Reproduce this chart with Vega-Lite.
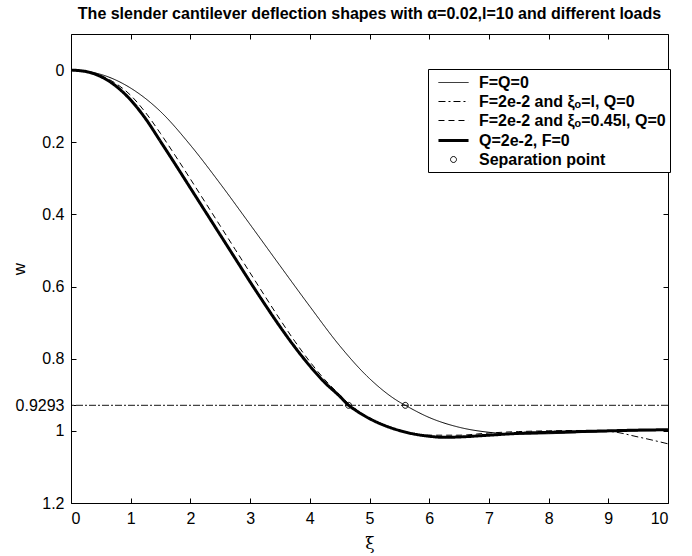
{
  "$schema": "https://vega.github.io/schema/vega-lite/v6.json",
  "width": 597,
  "height": 469,
  "autosize": "none",
  "padding": {"left": 71, "top": 34, "right": 24, "bottom": 53},
  "background": "white",
  "title": {"text": "The slender cantilever deflection shapes with α=0.02,l=10 and different loads", "font": "Liberation Sans", "fontSize": 16, "fontWeight": "bold", "color": "black", "anchor": "middle", "offset": 12},
  "config": {
    "view": {"stroke": "black", "strokeWidth": 1},
    "axis": {"domain": false, "grid": false, "tickSize": -5, "tickColor": "black", "labelFont": "Liberation Sans", "labelFontSize": 16, "labelColor": "black", "labelPadding": 12, "titleFont": "Liberation Sans", "titleColor": "black", "titleFontWeight": "normal"},
    "legend": {"labelFont": "Liberation Sans", "labelFontSize": 16, "labelFontWeight": "bold", "labelColor": "black", "strokeColor": "black", "fillColor": "white", "padding": 4, "rowPadding": 1, "symbolSize": 324, "symbolOffset": 11, "labelOffset": 15, "cornerRadius": 0, "labelLimit": 400}
  },
  "datasets": {
    "curves": [
      {"s": "F=Q=0", "x": 0, "w": 0}, {"s": "F=Q=0", "x": 0.5, "w": 0.012}, {"s": "F=Q=0", "x": 1, "w": 0.05}, {"s": "F=Q=0", "x": 1.5, "w": 0.115}, {"s": "F=Q=0", "x": 2, "w": 0.208}, {"s": "F=Q=0", "x": 2.5, "w": 0.315}, {"s": "F=Q=0", "x": 3, "w": 0.428}, {"s": "F=Q=0", "x": 3.5, "w": 0.542}, {"s": "F=Q=0", "x": 4, "w": 0.655}, {"s": "F=Q=0", "x": 4.5, "w": 0.764}, {"s": "F=Q=0", "x": 5, "w": 0.855}, {"s": "F=Q=0", "x": 5.5, "w": 0.92}, {"s": "F=Q=0", "x": 5.6, "w": 0.9293}, {"s": "F=Q=0", "x": 6, "w": 0.963}, {"s": "F=Q=0", "x": 6.5, "w": 0.99}, {"s": "F=Q=0", "x": 7, "w": 1.004}, {"s": "F=Q=0", "x": 7.5, "w": 1.009}, {"s": "F=Q=0", "x": 8, "w": 1.008}, {"s": "F=Q=0", "x": 8.5, "w": 1.005}, {"s": "F=Q=0", "x": 9, "w": 1.002}, {"s": "F=Q=0", "x": 9.5, "w": 1.0}, {"s": "F=Q=0", "x": 10, "w": 0.999},
      {"s": "Q=2e-2, F=0", "x": 0, "w": 0}, {"s": "Q=2e-2, F=0", "x": 0.25, "w": 0.004}, {"s": "Q=2e-2, F=0", "x": 0.5, "w": 0.018}, {"s": "Q=2e-2, F=0", "x": 0.75, "w": 0.044}, {"s": "Q=2e-2, F=0", "x": 1, "w": 0.083}, {"s": "Q=2e-2, F=0", "x": 1.25, "w": 0.135}, {"s": "Q=2e-2, F=0", "x": 1.5, "w": 0.198}, {"s": "Q=2e-2, F=0", "x": 1.75, "w": 0.262}, {"s": "Q=2e-2, F=0", "x": 2, "w": 0.327}, {"s": "Q=2e-2, F=0", "x": 2.25, "w": 0.392}, {"s": "Q=2e-2, F=0", "x": 2.5, "w": 0.457}, {"s": "Q=2e-2, F=0", "x": 2.75, "w": 0.522}, {"s": "Q=2e-2, F=0", "x": 3, "w": 0.587}, {"s": "Q=2e-2, F=0", "x": 3.25, "w": 0.65}, {"s": "Q=2e-2, F=0", "x": 3.5, "w": 0.711}, {"s": "Q=2e-2, F=0", "x": 3.75, "w": 0.768}, {"s": "Q=2e-2, F=0", "x": 4, "w": 0.82}, {"s": "Q=2e-2, F=0", "x": 4.25, "w": 0.866}, {"s": "Q=2e-2, F=0", "x": 4.5, "w": 0.904}, {"s": "Q=2e-2, F=0", "x": 4.65, "w": 0.9293}, {"s": "Q=2e-2, F=0", "x": 4.75, "w": 0.941}, {"s": "Q=2e-2, F=0", "x": 5, "w": 0.966}, {"s": "Q=2e-2, F=0", "x": 5.25, "w": 0.985}, {"s": "Q=2e-2, F=0", "x": 5.5, "w": 0.999}, {"s": "Q=2e-2, F=0", "x": 5.75, "w": 1.009}, {"s": "Q=2e-2, F=0", "x": 6, "w": 1.015}, {"s": "Q=2e-2, F=0", "x": 6.25, "w": 1.018}, {"s": "Q=2e-2, F=0", "x": 6.5, "w": 1.017}, {"s": "Q=2e-2, F=0", "x": 7, "w": 1.012}, {"s": "Q=2e-2, F=0", "x": 7.5, "w": 1.007}, {"s": "Q=2e-2, F=0", "x": 8, "w": 1.004}, {"s": "Q=2e-2, F=0", "x": 8.5, "w": 1.002}, {"s": "Q=2e-2, F=0", "x": 9, "w": 1.0}, {"s": "Q=2e-2, F=0", "x": 9.5, "w": 0.998}, {"s": "Q=2e-2, F=0", "x": 10, "w": 0.997},
      {"s": "F=2e-2 and ξₒ=l, Q=0", "x": 0, "w": 0}, {"s": "F=2e-2 and ξₒ=l, Q=0", "x": 0.5, "w": 0.018}, {"s": "F=2e-2 and ξₒ=l, Q=0", "x": 1, "w": 0.083}, {"s": "F=2e-2 and ξₒ=l, Q=0", "x": 1.5, "w": 0.198}, {"s": "F=2e-2 and ξₒ=l, Q=0", "x": 2, "w": 0.327}, {"s": "F=2e-2 and ξₒ=l, Q=0", "x": 2.5, "w": 0.457}, {"s": "F=2e-2 and ξₒ=l, Q=0", "x": 3, "w": 0.587}, {"s": "F=2e-2 and ξₒ=l, Q=0", "x": 3.5, "w": 0.711}, {"s": "F=2e-2 and ξₒ=l, Q=0", "x": 4, "w": 0.82}, {"s": "F=2e-2 and ξₒ=l, Q=0", "x": 4.5, "w": 0.904}, {"s": "F=2e-2 and ξₒ=l, Q=0", "x": 5, "w": 0.966}, {"s": "F=2e-2 and ξₒ=l, Q=0", "x": 5.5, "w": 0.999}, {"s": "F=2e-2 and ξₒ=l, Q=0", "x": 6, "w": 1.015}, {"s": "F=2e-2 and ξₒ=l, Q=0", "x": 6.5, "w": 1.017}, {"s": "F=2e-2 and ξₒ=l, Q=0", "x": 7, "w": 1.012}, {"s": "F=2e-2 and ξₒ=l, Q=0", "x": 7.5, "w": 1.007}, {"s": "F=2e-2 and ξₒ=l, Q=0", "x": 8, "w": 1.004}, {"s": "F=2e-2 and ξₒ=l, Q=0", "x": 8.5, "w": 1.002}, {"s": "F=2e-2 and ξₒ=l, Q=0", "x": 9, "w": 1.002}, {"s": "F=2e-2 and ξₒ=l, Q=0", "x": 9.5, "w": 1.017}, {"s": "F=2e-2 and ξₒ=l, Q=0", "x": 10, "w": 1.036},
      {"s": "F=2e-2 and ξₒ=0.45l, Q=0", "x": 0, "w": 0}, {"s": "F=2e-2 and ξₒ=0.45l, Q=0", "x": 0.25, "w": 0.003}, {"s": "F=2e-2 and ξₒ=0.45l, Q=0", "x": 0.5, "w": 0.015}, {"s": "F=2e-2 and ξₒ=0.45l, Q=0", "x": 0.75, "w": 0.037}, {"s": "F=2e-2 and ξₒ=0.45l, Q=0", "x": 1, "w": 0.07}, {"s": "F=2e-2 and ξₒ=0.45l, Q=0", "x": 1.25, "w": 0.118}, {"s": "F=2e-2 and ξₒ=0.45l, Q=0", "x": 1.5, "w": 0.176}, {"s": "F=2e-2 and ξₒ=0.45l, Q=0", "x": 1.75, "w": 0.238}, {"s": "F=2e-2 and ξₒ=0.45l, Q=0", "x": 2, "w": 0.302}, {"s": "F=2e-2 and ξₒ=0.45l, Q=0", "x": 2.25, "w": 0.367}, {"s": "F=2e-2 and ξₒ=0.45l, Q=0", "x": 2.5, "w": 0.432}, {"s": "F=2e-2 and ξₒ=0.45l, Q=0", "x": 2.75, "w": 0.497}, {"s": "F=2e-2 and ξₒ=0.45l, Q=0", "x": 3, "w": 0.562}, {"s": "F=2e-2 and ξₒ=0.45l, Q=0", "x": 3.25, "w": 0.627}, {"s": "F=2e-2 and ξₒ=0.45l, Q=0", "x": 3.5, "w": 0.691}, {"s": "F=2e-2 and ξₒ=0.45l, Q=0", "x": 3.75, "w": 0.752}, {"s": "F=2e-2 and ξₒ=0.45l, Q=0", "x": 4, "w": 0.808}, {"s": "F=2e-2 and ξₒ=0.45l, Q=0", "x": 4.25, "w": 0.858}, {"s": "F=2e-2 and ξₒ=0.45l, Q=0", "x": 4.5, "w": 0.9}, {"s": "F=2e-2 and ξₒ=0.45l, Q=0", "x": 4.65, "w": 0.925}, {"s": "F=2e-2 and ξₒ=0.45l, Q=0", "x": 5, "w": 0.964}, {"s": "F=2e-2 and ξₒ=0.45l, Q=0", "x": 5.5, "w": 0.998}, {"s": "F=2e-2 and ξₒ=0.45l, Q=0", "x": 6, "w": 1.012}, {"s": "F=2e-2 and ξₒ=0.45l, Q=0", "x": 6.5, "w": 1.012}, {"s": "F=2e-2 and ξₒ=0.45l, Q=0", "x": 7, "w": 1.006}, {"s": "F=2e-2 and ξₒ=0.45l, Q=0", "x": 7.5, "w": 1.002}, {"s": "F=2e-2 and ξₒ=0.45l, Q=0", "x": 8, "w": 1.0}, {"s": "F=2e-2 and ξₒ=0.45l, Q=0", "x": 8.5, "w": 0.999}, {"s": "F=2e-2 and ξₒ=0.45l, Q=0", "x": 9, "w": 0.999}, {"s": "F=2e-2 and ξₒ=0.45l, Q=0", "x": 9.5, "w": 0.998}, {"s": "F=2e-2 and ξₒ=0.45l, Q=0", "x": 10, "w": 0.997}
    ],
    "points": [
      {"s": "Separation point", "x": 4.65, "w": 0.9293},
      {"s": "Separation point", "x": 5.6, "w": 0.9293}
    ],
    "level": [{"x": 0, "w": 0.9293}]
  },
  "layer": [
    {
      "data": {"name": "level"},
      "mark": {"type": "rule", "color": "#444444", "strokeWidth": 1.3, "strokeDash": [7, 2, 2, 2]},
      "encoding": {
        "y": {"field": "w", "type": "quantitative", "scale": {"domain": [-0.1, 1.2], "reverse": true, "nice": false, "zero": false}, "axis": null}
      }
    },
    {
      "data": {"name": "curves"},
      "mark": {"type": "line", "color": "black", "interpolate": "monotone"},
      "encoding": {
        "x": {"field": "x", "type": "quantitative", "scale": {"domain": [0, 10], "nice": false}, "axis": {"values": [0,1,2,3,4,5,6,7,8,9,10], "title": "ξ", "titleFont": "DejaVu Serif", "titleFontSize": 17, "titlePadding": 9}},
        "y": {"field": "w", "type": "quantitative", "scale": {"domain": [-0.1, 1.2], "reverse": true, "nice": false, "zero": false}, "axis": {"values": [0, 0.2, 0.4, 0.6, 0.8, 0.9293, 1, 1.2], "labelExpr": "'' + datum.value", "title": "w", "titleFontSize": 17, "titleX": -52, "titleBaseline": "middle"}},
        "detail": {"field": "s"},
        "strokeDash": {"field": "s", "type": "nominal", "scale": {"type": "ordinal", "domain": ["F=Q=0", "F=2e-2 and ξₒ=l, Q=0", "F=2e-2 and ξₒ=0.45l, Q=0", "Q=2e-2, F=0", "Separation point"], "range": [[1, 0], [7, 3, 2, 3], [6, 4], [1, 0], [1, 0]]}, "legend": {"orient": "none", "legendX": 357, "legendY": 35, "title": null}},
        "strokeWidth": {"field": "s", "type": "nominal", "scale": {"type": "ordinal", "domain": ["F=Q=0", "F=2e-2 and ξₒ=l, Q=0", "F=2e-2 and ξₒ=0.45l, Q=0", "Q=2e-2, F=0", "Separation point"], "range": [1, 1, 1, 3, 1]}, "legend": {"orient": "none", "legendX": 357, "legendY": 35, "title": null}}
      }
    },
    {
      "data": {"name": "points"},
      "mark": {"type": "point", "filled": false, "color": "black", "size": 324, "opacity": 1, "strokeWidth": 1},
      "encoding": {
        "x": {"field": "x", "type": "quantitative", "scale": {"domain": [0, 10], "nice": false}, "axis": null},
        "y": {"field": "w", "type": "quantitative", "scale": {"domain": [-0.1, 1.2], "reverse": true, "nice": false, "zero": false}, "axis": null},
        "shape": {"field": "s", "type": "nominal", "scale": {"domain": ["F=Q=0", "F=2e-2 and ξₒ=l, Q=0", "F=2e-2 and ξₒ=0.45l, Q=0", "Q=2e-2, F=0", "Separation point"], "range": ["M-1.67,0H1.67", "M-1.67,0H1.67", "M-1.67,0H1.67", "M-1.67,0H1.67", "M-0.33,0A0.33,0.33,0,1,1,0.33,0A0.33,0.33,0,1,1,-0.33,0Z"]}, "legend": {"orient": "none", "legendX": 357, "legendY": 35, "title": null}}
      }
    },
    {
      "data": {"name": "level"},
      "mark": {"type": "point", "opacity": 0},
      "encoding": {
        "x": {"field": "x", "type": "quantitative", "scale": {"domain": [0, 10], "nice": false}, "axis": {"orient": "top", "labels": false, "title": null, "values": [0,1,2,3,4,5,6,7,8,9,10]}},
        "y": {"field": "w", "type": "quantitative", "scale": {"domain": [-0.1, 1.2], "reverse": true, "nice": false, "zero": false}, "axis": {"orient": "right", "labels": false, "title": null, "values": [0, 0.2, 0.4, 0.6, 0.8, 1, 1.2]}}
      }
    }
  ],
  "resolve": {"axis": {"x": "independent", "y": "independent"}}
}
